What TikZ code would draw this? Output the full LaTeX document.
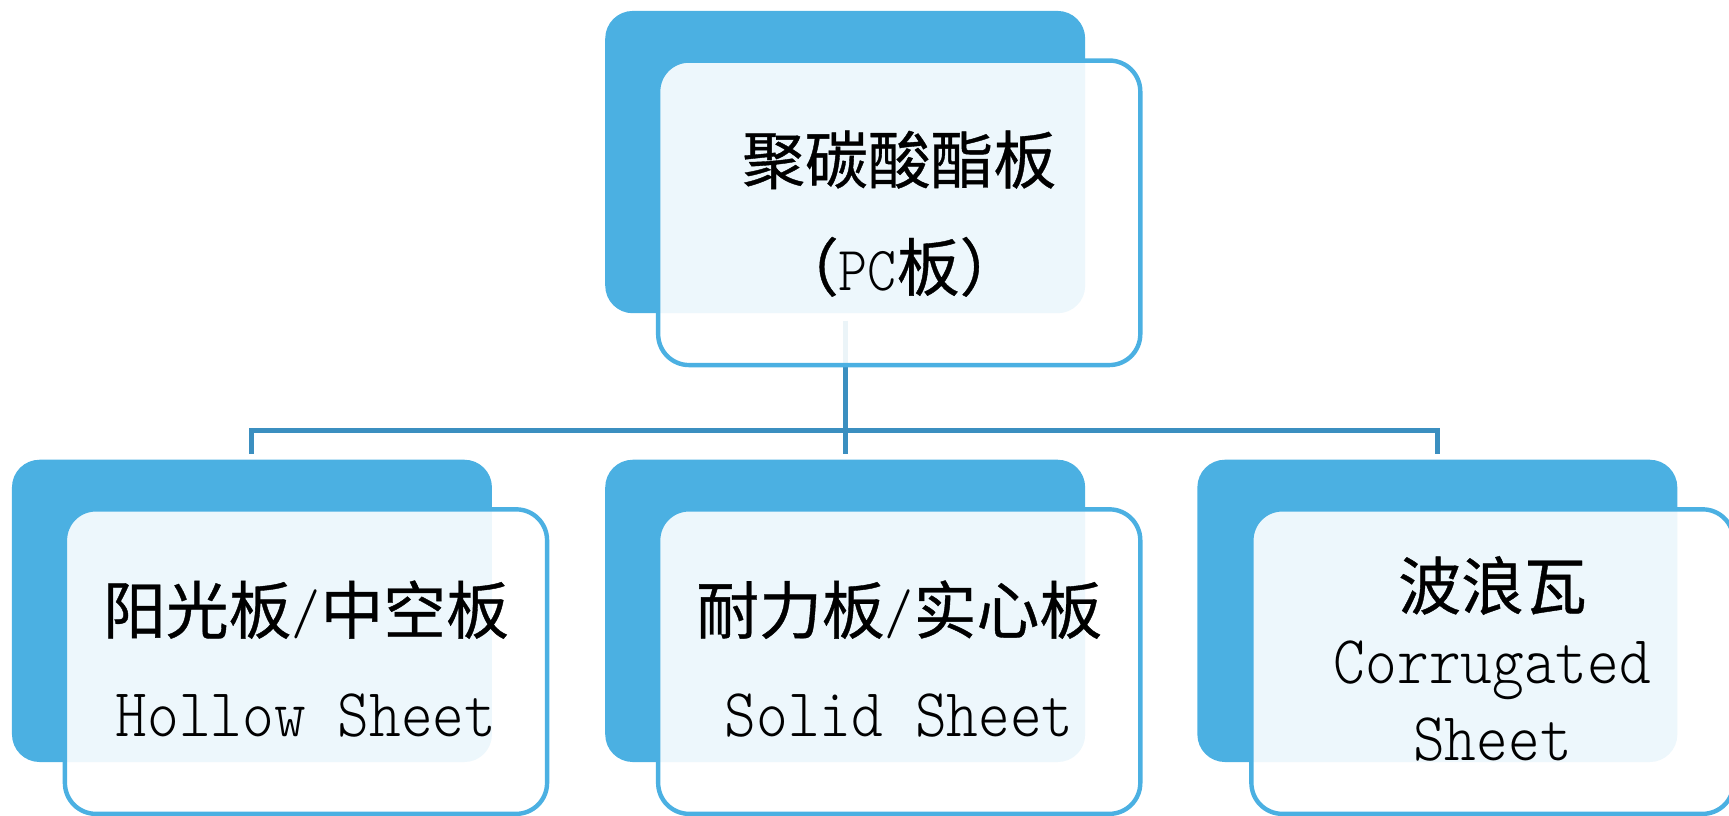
\documentclass[tikz,border=0pt]{standalone}
\usepackage{fontspec}
\newfontfamily\cjk{Noto Sans CJK SC}[FakeBold=0.6]
\newfontfamily\monof{lmmonolt10-regular.otf}[FakeStretch=0.88]
\definecolor{boxblue}{RGB}{75,176,226}
\definecolor{connblue}{RGB}{59,143,192}
\tikzset{
  fbox/.style={rectangle, rounded corners=0.25cm, fill=boxblue, draw=none, minimum width=4.35cm, minimum height=2.74cm, inner sep=0},
  obox/.style={rectangle, rounded corners=0.28cm, fill=white, fill opacity=0.9, draw=boxblue, draw opacity=1, line width=0.04cm, minimum width=4.37cm, minimum height=2.76cm, inner sep=0},
  conn/.style={draw=connblue, line width=0.045cm},
  cjktxt/.style={inner sep=0, anchor=center, font=\cjk\fontsize{16.2}{20}\selectfont},
  entxt/.style={inner sep=0, anchor=base, font=\monof\fontsize{17.7}{22}\selectfont},
}
\begin{document}
\begin{tikzpicture}[x=0.01cm, y=-0.01cm]
\useasboundingbox (0,0) rectangle (1568,740);
% back filled boxes
\node[fbox] (t) at (766.5,147) {};
\node[fbox] (l) at (228.5,554) {};
\node[fbox] (m) at (766.5,554) {};
\node[fbox] (r) at (1303.5,554) {};
% connectors
\coordinate (bus) at (766.5,390.5);
\draw[conn] ([yshift=-0.06cm]t.south) -- ([yshift=0.045cm]m.north);
\draw[conn] ([yshift=0.045cm]l.north) |- (bus) -| ([yshift=0.045cm]r.north);
% front outlined boxes
\node[obox] (to) at (815.5,193) {};
\node[obox] (lo) at (277.5,600) {};
\node[obox] (mo) at (815.5,600) {};
\node[obox] (ro) at (1353.5,600) {};
% texts
\node[cjktxt] (t1) at (815.5,145) {聚碳酸酯板};
\node[cjktxt] (t2) at (815.5,242) {（{\monof PC}板）};
\node[cjktxt] (l1) at (277.5,553) {阳光板{\monof /}中空板};
\node[entxt] (l2) at (277.5,668) {Hollow Sheet};
\node[cjktxt] (m1) at (815.5,553) {耐力板{\monof /}实心板};
\node[entxt] (m2) at (815.5,668) {Solid Sheet};
\node[cjktxt] (r1) at (1353.5,531) {波浪瓦};
\node[entxt] (r2) at (1353.5,620) {Corrugated};
\node[entxt] (r3) at (1353.5,690) {Sheet};
\end{tikzpicture}
\end{document}
